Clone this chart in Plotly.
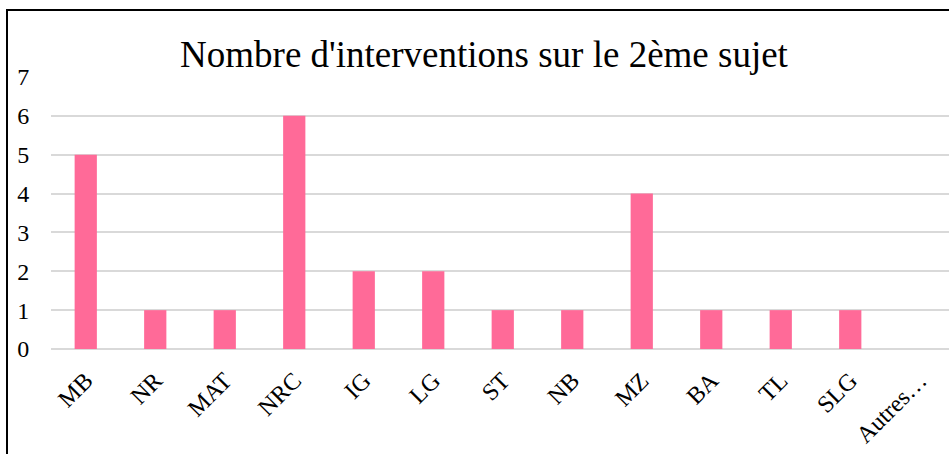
import plotly.graph_objects as go

categories = ["MB", "NR", "MAT", "NRC", "IG", "LG", "ST", "NB", "MZ", "BA", "TL", "SLG", "Autres…"]
values = [5, 1, 1, 6, 2, 2, 1, 1, 4, 1, 1, 1, 0]
y_ticks = [0, 1, 2, 3, 4, 5, 6, 7]

font_family = "Liberation Serif, Times New Roman, serif"

fig = go.Figure(go.Bar(
    x=categories, y=values,
    marker=dict(color="#FF6A98", line=dict(width=0)),
    width=0.32,
))

L, R, T, B = 51, 0, 77, 105
W, H = 949, 454
pw = W - L - R
ph = H - T - B

fig.update_layout(
    width=W, height=H,
    margin=dict(l=L, r=R, t=T, b=B, pad=0),
    paper_bgcolor="white", plot_bgcolor="white",
    showlegend=False,
    title=dict(text="Nombre d'interventions sur le 2ème sujet",
               x=(484 - L) / pw, xref="paper", xanchor="center",
               y=1 - 54 / H, yanchor="middle",
               font=dict(family=font_family, size=37, color="black")),
    font=dict(family=font_family, color="black"),
    xaxis=dict(
        type="category",
        range=[-0.5, -0.5 + pw / 69.5],
        tickangle=-45,
        tickfont=dict(size=24, family=font_family, color="black"),
        showgrid=False, zeroline=False, showline=False,
        ticks="outside", ticklen=7, tickcolor="rgba(0,0,0,0)",
    ),
    yaxis=dict(
        range=[0, 7],
        tickvals=y_ticks,
        tickfont=dict(size=24, family=font_family, color="black"),
        showgrid=True, gridcolor="#D9D9D9", gridwidth=1.5,
        zeroline=True, zerolinecolor="#D9D9D9", zerolinewidth=1.5,
        showline=False,
        ticks="outside", ticklen=16, tickcolor="rgba(0,0,0,0)",
    ),
    bargap=0.68,
)

# outer frame of the chart (extends beyond the cropped right/bottom edges)
fig.add_shape(type="rect", xref="paper", yref="paper",
              x0=(7 - L) / pw, x1=(960 - L) / pw,
              y0=(H - B - 470) / ph, y1=(H - B - 10) / ph,
              line=dict(color="black", width=2), fillcolor="rgba(0,0,0,0)",
              layer="above")

fig.write_html(
    "out.html",
    config={"displayModeBar": False},
    post_script="document.body.style.margin='0';document.body.style.overflow='hidden';",
)
